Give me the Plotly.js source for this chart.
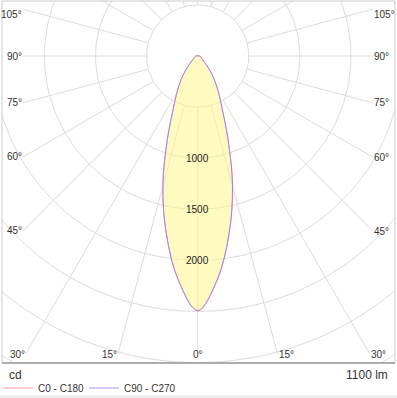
<!DOCTYPE html>
<html><head><meta charset="utf-8">
<script src="https://cdn.plot.ly/plotly-3.0.1.min.js"></script>
<style>html,body{margin:0;padding:0;background:#eeeeee;overflow:hidden;} #chart{width:397px;height:395px;background:#fff;}</style>
</head><body><div id="chart"></div>
<script>
// ---- data ----
const gammaAngles   = [0, 5, 10, 15, 20, 25, 30, 35, 40, 45, 50, 55, 60, 65, 70, 75, 80, 85, 90];
const intensityC0   = [2495, 2200, 1770, 1320, 870, 565, 405, 285, 190, 115, 78, 55, 43, 36, 31, 27, 25, 22, 20];
const intensityC180 = [2495, 2200, 1770, 1320, 870, 565, 405, 285, 190, 115, 78, 55, 43, 36, 31, 27, 25, 22, 20];
const intensityC90  = [2490, 2195, 1765, 1315, 867, 562, 403, 284, 189, 115, 78, 55, 43, 36, 31, 27, 25, 22, 20];
const intensityC270 = [2490, 2195, 1765, 1315, 867, 562, 403, 284, 189, 115, 78, 55, 43, 36, 31, 27, 25, 22, 20];
const seriesNames = ['C0 - C180', 'C90 - C270'];
const ringValues = [500, 1000, 1500, 2000, 2500, 3000, 3500, 4000];
const ringLabelValues = [1000, 1500, 2000];
const spokeAngles = [0, 15, 30, 45, 60, 75, 90, 105, 120, 135, 150, 165, 180, 195, 210, 225, 240, 255, 270, 285, 300, 315, 330, 345];
const labeledAngles = [-105, -90, -75, -60, -45, -30, -15, 0, 15, 30, 45, 60, 75, 90, 105];
const unitLabel = 'cd';
const fluxLabel = '1100 lm';

// ---- geometry (layout) ----
const W = 397, H = 395, mL = 2, mR = 2, mT = 1, mB = 32;
const pw = W - mL - mR, ph = H - mT - mB;
const cx = 195.7, cy = 55;          // pole position inside plot area (px)
const s = 0.1022;                  // px per cd
const xr = [-cx / s, (pw - cx) / s];
const yr = [-(ph - cy) / s, cy / s];
const xL = (21 - cx) / s, xR = (371 - cx) / s, yB = -(353 - cy) / s, yTopLab = (cy - 13) / s;

const rad = d => d * Math.PI / 180;
const dirX = a => Math.sin(rad(a));
const dirY = a => -Math.cos(rad(a));

// rings
const ringX = [], ringY = [];
ringValues.forEach(r => {
  for (let a = 0; a <= 360; a += 2) { ringX.push(r * dirX(a)); ringY.push(r * dirY(a)); }
  ringX.push(null); ringY.push(null);
});

function hit(a) {
  const dx = dirX(a), dy = dirY(a);
  const c = [];
  if (dx < -1e-9) c.push({t: xL / dx, side: 'left'});
  if (dx > 1e-9) c.push({t: xR / dx, side: 'right'});
  if (dy < -1e-9) c.push({t: yB / dy, side: 'bottom'});
  c.sort((p, q) => p.t - q.t);
  return c[0];
}

// spokes
const spX = [], spY = [];
const norm = a => { let b = ((a % 360) + 360) % 360; return b > 180 ? b - 360 : b; };
spokeAngles.forEach(a0 => {
  const a = norm(a0);
  let rEnd = 6000;
  if (labeledAngles.includes(a)) { rEnd = hit(a).t; }
  spX.push(ringValues[0] * dirX(a), rEnd * dirX(a), null);
  spY.push(ringValues[0] * dirY(a), rEnd * dirY(a), null);
});

// curves
function curve(leftVals, rightVals) {
  const x = [], y = [];
  for (let i = gammaAngles.length - 1; i >= 0; i--) { const a = -gammaAngles[i]; x.push(leftVals[i] * dirX(a)); y.push(leftVals[i] * dirY(a)); }
  for (let i = 1; i < gammaAngles.length; i++) { const a = gammaAngles[i]; x.push(rightVals[i] * dirX(a)); y.push(rightVals[i] * dirY(a)); }
  x.push(x[0]); y.push(y[0]);
  return {x, y};
}
const cA = curve(intensityC180, intensityC0);
const cB = curve(intensityC270, intensityC90);

const grid = '#dcdcdc';
const traces = [
  {x: ringX, y: ringY, mode: 'lines', line: {color: grid, width: 1}, hoverinfo: 'skip', showlegend: false},
  {x: spX, y: spY, mode: 'lines', line: {color: grid, width: 1}, hoverinfo: 'skip', showlegend: false},
  {x: cA.x, y: cA.y, mode: 'lines', fill: 'toself', fillcolor: 'rgba(255,248,140,0.55)', showlegend: false,
   line: {color: 'rgba(0,0,0,0)', width: 0, shape: 'spline', smoothing: 1}},
  {x: cA.x, y: cA.y, mode: 'lines', name: seriesNames[0],
   line: {color: '#ff9a9a', width: 1, shape: 'spline', smoothing: 1}},
  {x: cB.x, y: cB.y, mode: 'lines', name: seriesNames[1], opacity: 0.8,
   line: {color: '#8c7cff', width: 1, shape: 'spline', smoothing: 1}},
  // spacer entry so the fixed-width legend does not clip the last label
  {x: [null], y: [null], mode: 'lines', name: ' ', line: {color: 'rgba(0,0,0,0)', width: 0}, hoverinfo: 'skip'}
];

const font = 'Liberation Sans, Arial, sans-serif';
const ann = [];
ringLabelValues.forEach(v => ann.push({x: 0, y: -v, text: String(v), showarrow: false, xanchor: 'center', yanchor: 'middle',
  font: {family: font, size: 10, color: '#222'}}));
labeledAngles.forEach(a => {
  const h = hit(a);
  let x = h.t * dirX(a), y = h.t * dirY(a), xa;
  if (h.side === 'left') xa = 'right';
  else if (h.side === 'right') xa = 'left';
  else xa = a < 0 ? 'right' : (a > 0 ? 'left' : 'center');
  if (y > yTopLab) y = yTopLab;
  ann.push({x, y, text: Math.abs(a) + '°', showarrow: false, xanchor: xa, yanchor: 'middle', borderpad: 0,
    font: {family: font, size: 10, color: '#333'}});
});
ann.push({xref: 'paper', yref: 'paper', x: 0, y: -12 / ph, xshift: 5, text: unitLabel, showarrow: false, xanchor: 'left', yanchor: 'middle',
  font: {family: font, size: 12, color: '#333'}});
ann.push({xref: 'paper', yref: 'paper', x: 1, y: -12 / ph, xshift: -5, text: fluxLabel, showarrow: false, xanchor: 'right', yanchor: 'middle',
  font: {family: font, size: 12, color: '#333'}});

const layout = {
  width: W, height: H, margin: {l: mL, r: mR, t: mT, b: mB, autoexpand: false},
  paper_bgcolor: '#ffffff', plot_bgcolor: '#ffffff',
  xaxis: {range: xr, visible: false, fixedrange: true},
  yaxis: {range: yr, visible: false, fixedrange: true},
  showlegend: true,
  legend: {orientation: 'h', x: -4 / pw, xanchor: 'left', y: -25 / ph, yanchor: 'middle', bgcolor: 'rgba(0,0,0,0)',
    font: {family: font, size: 10, color: '#333'}, itemwidth: 30, tracegroupgap: 0,
    entrywidth: 41, entrywidthmode: 'pixels'},
  annotations: ann,
  shapes: [
    {type: 'rect', xref: 'paper', yref: 'paper', x0: 0, x1: 1, y0: 0, y1: 1, line: {color: '#cccccc', width: 1}},
    {type: 'line', xref: 'paper', yref: 'paper', x0: 0, x1: 1, y0: 0, y1: 0, line: {color: '#9a9a9a', width: 1.5}}
  ]
};
Plotly.newPlot('chart', traces, layout, {displayModeBar: false, staticPlot: true});
</script></body></html>
